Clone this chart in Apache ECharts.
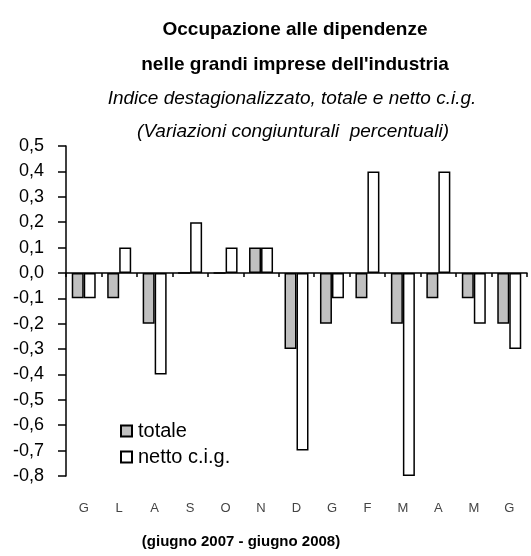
<!DOCTYPE html>
<html>
<head>
<meta charset="utf-8">
<script src="https://cdn.jsdelivr.net/npm/echarts@6/dist/echarts.min.js"></script>
<style>
  html, body { margin: 0; padding: 0; background: #fff; }
  #main { width: 531px; height: 556px; }
</style>
</head>
<body>
<div id="main"></div>
<script>
// mesi giugno 2007 - giugno 2008
var mesi = ['G', 'L', 'A', 'S', 'O', 'N', 'D', 'G', 'F', 'M', 'A', 'M', 'G'];
var totale = [-0.1, -0.1, -0.2, 0, 0, 0.1, -0.3, -0.2, -0.1, -0.2, -0.1, -0.1, -0.2];
var nettoCig = [-0.1, 0.1, -0.4, 0.2, 0.1, 0.1, -0.7, -0.1, 0.4, -0.8, 0.4, -0.2, -0.3];

var font = '"Liberation Sans", Arial, sans-serif';

var myChart = echarts.init(document.getElementById('main'), null, { renderer: 'canvas' });

var option = {
    animation: false,
    backgroundColor: '#fff',
    title: [
        { text: 'Occupazione alle dipendenze', left: 290, top: 15, textAlign: 'center',
          textStyle: { fontFamily: font, fontWeight: 'bold', fontSize: 19, color: '#000' } },
        { text: "nelle grandi imprese dell'industria", left: 290, top: 50, textAlign: 'center',
          textStyle: { fontFamily: font, fontWeight: 'bold', fontSize: 19, color: '#000' } },
        { text: 'Indice destagionalizzato, totale e netto c.i.g.', left: 287, top: 84, textAlign: 'center',
          textStyle: { fontFamily: font, fontStyle: 'italic', fontWeight: 'normal', fontSize: 19, color: '#000' } },
        { text: '(Variazioni congiunturali  percentuali)', left: 288, top: 117, textAlign: 'center',
          textStyle: { fontFamily: font, fontStyle: 'italic', fontWeight: 'normal', fontSize: 19, color: '#000' } },
        { text: '(giugno 2007 - giugno 2008)', left: 236, top: 529, textAlign: 'center',
          textStyle: { fontFamily: font, fontWeight: 'bold', fontSize: 15, color: '#000' } }
    ],
    legend: {
        orient: 'vertical',
        left: 115,
        top: 416,
        itemWidth: 11,
        itemHeight: 11,
        itemGap: 6,
        icon: 'rect',
        textStyle: { fontFamily: font, fontSize: 20, lineHeight: 20, color: '#000', padding: [0, 0, 0, 1] },
        data: ['totale', 'netto c.i.g.']
    },
    grid: { left: 66, right: 4, top: 146, bottom: 80, containLabel: false },
    xAxis: [
        {
            type: 'category',
            data: mesi,
            axisLine: { onZero: true, lineStyle: { color: '#000', width: 1.5 } },
            axisTick: { show: true, length: 4, lineStyle: { color: '#000', width: 1.5 } },
            axisLabel: { show: false }
        },
        {
            type: 'category',
            data: mesi,
            position: 'bottom',
            offset: 18,
            axisLine: { show: false },
            axisTick: { show: false },
            axisLabel: { fontFamily: font, fontSize: 13, color: '#444' }
        }
    ],
    yAxis: {
        type: 'value',
        min: -0.8,
        max: 0.5,
        interval: 0.1,
        axisLine: { show: true, lineStyle: { color: '#000', width: 1.5 } },
        axisTick: { show: true, length: 8, lineStyle: { color: '#000', width: 1.5 } },
        splitLine: { show: false },
        axisLabel: {
            fontFamily: font, fontSize: 18, color: '#000', margin: 22,
            formatter: function (v) { return v.toFixed(1).replace('.', ','); }
        }
    },
    series: [
        {
            name: 'totale',
            type: 'bar',
            data: totale,
            barWidth: 12,
            barGap: '0%',
            itemStyle: { color: '#c0c0c0', borderColor: '#000', borderWidth: 1.5 }
        },
        {
            name: 'netto c.i.g.',
            type: 'bar',
            data: nettoCig,
            barWidth: 12,
            barGap: '0%',
            itemStyle: { color: '#fff', borderColor: '#000', borderWidth: 1.5 }
        }
    ]
};

myChart.setOption(option);
</script>
</body>
</html>
